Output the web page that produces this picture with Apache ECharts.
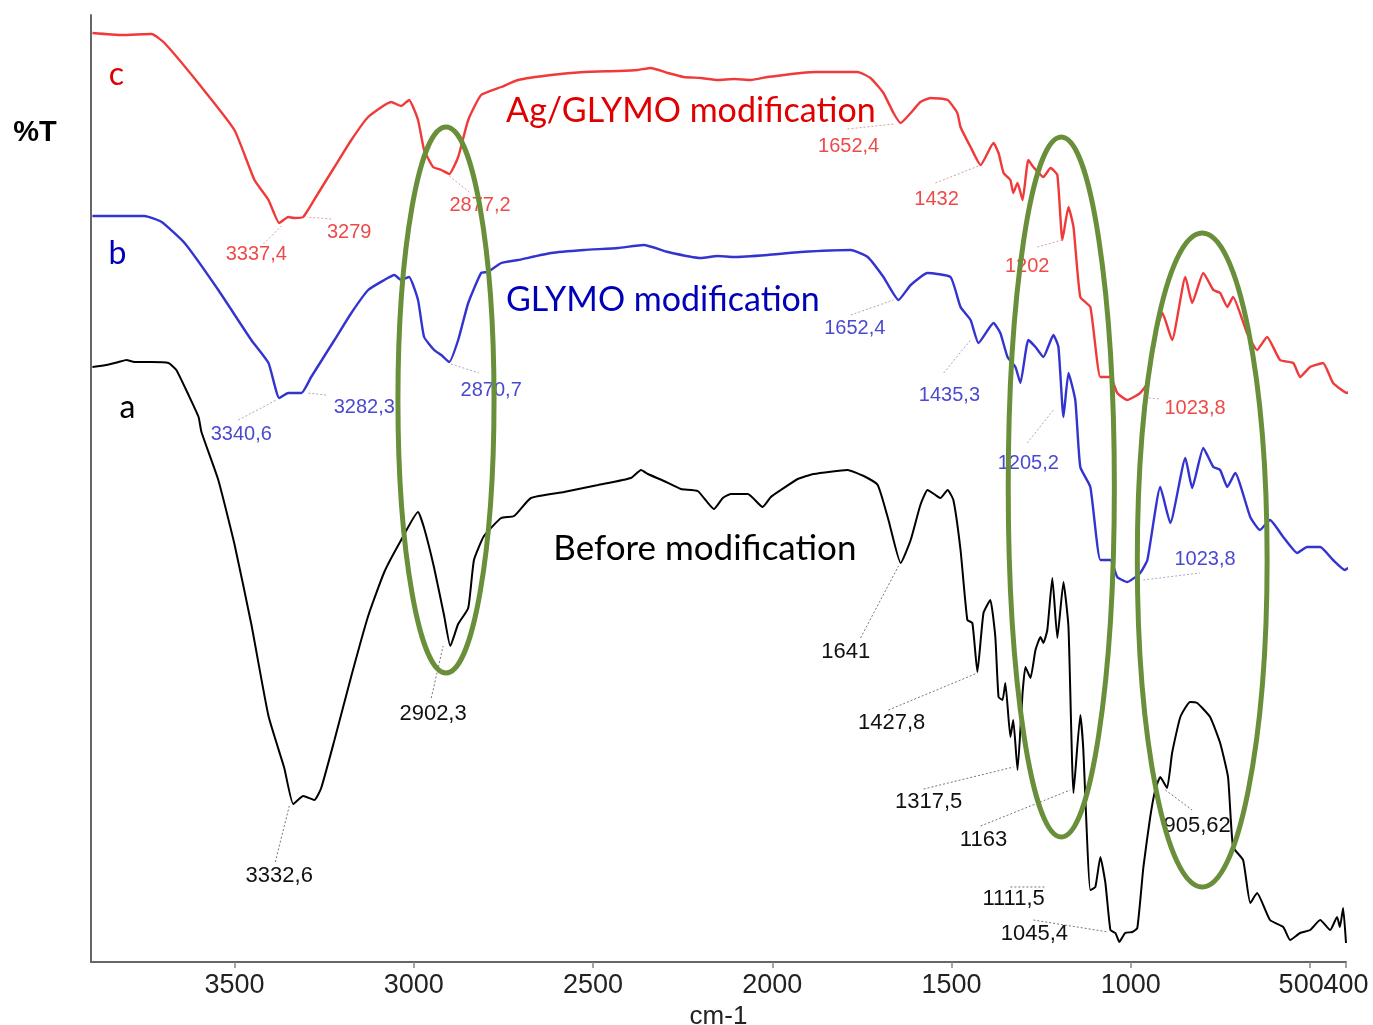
<!DOCTYPE html>
<html><head><meta charset="utf-8">
<script src="https://cdn.jsdelivr.net/npm/echarts@6/dist/echarts.min.js"></script>
<style>html,body{margin:0;padding:0;background:#fff}#c{width:1373px;height:1025px}</style>
</head><body><div id="c"></div>
<script>
// x-axis tick labels (cm-1)
const xTicks = [3500, 3000, 2500, 2000, 1500, 1000];
const xTick500 = [500];
const xEndTick = [400];

// a: Before modification  [wavenumber, %T (arbitrary offset units)]
const spectrumA = [[3896,59.5],[3857,59.7],[3823,60.0],[3801,60.2],[3779,60.0],[3731,60.0],[3684,59.9],[3662,59.2],[3628,56.7],[3600,54.5],[3592,53.0],[3545,48.2],[3500,41.8],[3453,33.8],[3405,24.6],[3361,19.4],[3336,15.8],[3308,16.6],[3277,16.2],[3258,17.4],[3221,22.2],[3174,28.6],[3127,34.6],[3082,39.0],[3035,42.2],[2988,45.0],[2971,43.4],[2943,39.4],[2915,34.6],[2898,31.6],[2876,33.8],[2848,35.4],[2832,40.2],[2804,42.6],[2756,44.4],[2720,44.6],[2673,46.4],[2581,47.0],[2486,47.7],[2394,48.4],[2366,49.2],[2347,48.8],[2302,48.1],[2255,47.3],[2208,47.1],[2163,45.3],[2138,46.4],[2116,46.8],[2068,46.8],[2027,45.5],[2004,46.5],[1976,47.2],[1929,48.3],[1885,48.8],[1790,49.2],[1745,48.6],[1706,47.7],[1676,44.2],[1642,39.9],[1614,42.2],[1587,45.7],[1567,47.2],[1545,46.7],[1531,46.4],[1511,47.2],[1495,46.2],[1475,41.2],[1456,34.2],[1442,33.9],[1428,29.0],[1411,34.9],[1392,36.2],[1378,32.5],[1369,26.5],[1358,26.2],[1350,27.9],[1336,22.5],[1328,24.2],[1316,19.2],[1302,26.9],[1294,29.5],[1280,28.4],[1266,31.2],[1252,32.5],[1244,31.9],[1233,33.2],[1219,38.4],[1205,32.4],[1188,38.0],[1174,33.5],[1160,16.9],[1141,24.7],[1133,21.5],[1113,7.2],[1099,7.5],[1085,10.5],[1071,7.9],[1057,3.2],[1043,2.9],[1032,2.0],[1016,2.9],[996,3.0],[982,3.4],[965,9.5],[946,14.5],[932,17.2],[918,18.5],[899,17.4],[885,20.9],[862,24.5],[835,26.0],[815,25.9],[779,24.5],[751,21.9],[729,18.5],[715,11.5],[687,10.2],[667,5.9],[648,6.9],[612,4.2],[575,3.5],[556,2.2],[528,2.9],[500,3.2],[472,4.2],[444,3.2],[425,4.5],[417,3.5],[408,5.4],[400,1.9]];

// b: GLYMO modification
const spectrumB = [[3896,74.6],[3815,74.6],[3751,74.6],[3703,74.0],[3639,71.9],[3545,67.2],[3453,62.2],[3405,59.9],[3375,56.4],[3350,56.9],[3313,56.9],[3286,58.5],[3221,62.2],[3174,64.9],[3127,67.2],[3082,68.2],[3054,68.7],[3035,68.2],[3013,68.5],[2988,66.2],[2971,62.5],[2943,61.2],[2923,60.7],[2901,60.0],[2876,62.2],[2848,65.9],[2812,68.9],[2793,69.0],[2756,69.9],[2709,70.2],[2617,70.9],[2525,71.2],[2430,71.4],[2358,71.7],[2291,71.0],[2199,70.4],[2152,70.6],[2107,70.5],[2013,70.7],[1921,71.0],[1781,71.2],[1734,70.5],[1690,68.5],[1648,66.2],[1614,67.7],[1567,68.9],[1503,68.5],[1475,65.5],[1447,64.2],[1425,61.9],[1383,63.9],[1364,62.9],[1344,60.5],[1322,59.5],[1308,57.9],[1286,62.2],[1266,61.5],[1244,60.5],[1216,62.7],[1202,61.5],[1188,54.5],[1174,58.9],[1155,56.2],[1141,49.5],[1113,47.5],[1085,40.2],[1057,40.2],[1038,38.5],[1010,38.0],[974,38.9],[954,40.2],[918,47.5],[890,43.9],[848,50.4],[829,47.4],[798,51.4],[770,49.5],[751,49.2],[731,47.5],[709,48.9],[667,44.5],[640,43.2],[612,44.2],[575,42.5],[536,40.9],[509,41.5],[472,41.5],[436,40.2],[403,39.2],[389,39.5],[370,39.0]];

// c: Ag/GLYMO modification
const spectrumC = [[3896,92.9],[3815,92.7],[3731,92.8],[3695,91.9],[3592,87.5],[3500,83.2],[3444,78.2],[3405,76.2],[3375,73.9],[3350,74.5],[3333,74.4],[3308,74.5],[3266,76.9],[3221,79.5],[3174,82.2],[3127,84.5],[3063,86.0],[3035,85.6],[3013,86.2],[2988,84.2],[2971,81.2],[2946,79.5],[2923,79.2],[2901,78.8],[2876,80.5],[2848,84.2],[2812,86.7],[2756,87.5],[2709,88.2],[2617,88.7],[2525,89.0],[2430,89.1],[2375,89.2],[2339,89.4],[2291,88.9],[2247,88.5],[2199,88.4],[2152,88.2],[2107,88.3],[2060,88.2],[2013,88.5],[1968,88.7],[1921,88.9],[1874,89.0],[1809,89.0],[1762,89.0],[1726,88.4],[1690,86.9],[1662,84.9],[1642,83.9],[1614,84.9],[1587,86.0],[1559,86.4],[1511,86.2],[1484,84.9],[1475,83.5],[1447,81.5],[1419,79.7],[1383,81.9],[1369,80.9],[1355,78.9],[1336,78.2],[1328,76.9],[1316,77.9],[1302,76.2],[1286,80.2],[1272,79.5],[1244,78.5],[1224,79.4],[1205,78.7],[1191,72.2],[1174,75.5],[1160,73.5],[1141,66.5],[1113,65.5],[1085,58.5],[1057,58.5],[1038,56.9],[1010,56.2],[974,56.9],[954,57.9],[926,63.5],[912,64.9],[885,62.2],[848,68.5],[829,65.9],[798,68.9],[770,67.2],[751,66.9],[731,65.5],[715,66.5],[676,62.9],[648,61.2],[620,62.5],[584,60.2],[547,59.9],[528,58.5],[500,59.5],[464,59.9],[436,57.9],[397,56.9],[375,58.2]];

// peak annotations: [text, wavenumber, %T]
const peakLabelsC = [["3337,4",3439,70.8],["3279",3180,73.0],["2877,2",2815,75.7],["1652,4",1787,81.6],["1432",1542,76.3],["1202",1289,69.6],["1023,8",821,55.4]];
const peakLabelsB = [["3340,6",3481,52.8],["3282,3",3138,55.5],["2870,7",2784,57.2],["1652,4",1770,63.4],["1435,3",1506,56.7],["1205,2",1286,49.9],["1023,8",793,40.3]];
const peakLabelsA = [["3332,6",3375,8.6],["2902,3",2946,24.8],["1641",1795,31.0],["1427,8",1667,23.9],["1317,5",1564,16.0],["1163",1411,12.2],["1111,5",1327,6.3],["1045,4",1269,2.8],["905,62",815,13.6]];
// leader lines: [[wn1,T1],[wn2,T2]]
const leadersC = [[[3419,71.8],[3369,73.6]],[[3230,74.3],[3299,74.5]],[[2901,78.6],[2845,77.0]],[[1790,83.3],[1662,83.8]],[[1545,77.9],[1425,79.6]],[[1261,71.5],[1191,72.2]],[[950,56.4],[918,56.3]]];
const leadersB = [[[3489,54.2],[3383,56.2]],[[3244,56.7],[3299,56.9]],[[2896,59.8],[2818,58.9]],[[1781,64.7],[1662,66.2]],[[1522,58.9],[1447,62.2]],[[1289,51.9],[1216,55.2]],[[965,38.2],[807,38.9]]];
const leadersA = [[[3386,10.0],[3347,15.6]],[[2951,26.4],[2918,31.6]],[[1754,32.4],[1648,39.6]],[[1676,25.2],[1428,28.9]],[[1578,17.3],[1327,19.5]],[[1419,13.6],[1169,17.2]],[[1336,7.5],[1238,7.5]],[[1272,4.2],[1063,3.0]],[[904,17.2],[829,15.2]]];
// curve names and titles: [text, wn, T]
const curveTags = [["c",3829,88.7,"#e00000"],["b",3826,70.8,"#0000b8"],["a",3798,55.4,"#000000"]];
const curveTitles = [["Ag/GLYMO modification",2227,85.1,"#e00000",34],["GLYMO modification",2305,66.2,"#0000b8",34],["Before modification",2188,41.3,"#000000",35]];
// highlight ellipses: [centerWn, centerT, radiusWn, radiusT]
const ellipses = [[2910,56.2,134,27.3],[1194,47.5,148,35.0],[801,40.2,181,32.7]];

const chart = echarts.init(document.getElementById('c'), null, {renderer:'canvas'});
const labelFont = {fontFamily:'Liberation Sans, Arial',fontSize:27,color:'#222'};
function xAxisDef(ticks, main, pad){
  return {type:'value',inverse:true,min:400,max:3900,position:'bottom',
    name: main ? 'cm-1' : '',nameLocation:'middle',nameGap:40,
    nameTextStyle:{fontFamily:'Liberation Sans, Arial',fontSize:26,color:'#222'},
    axisLine:{show:main,lineStyle:{color:'#666',width:2}},
    axisTick:{show:true,customValues:ticks,length:6,lineStyle:{color:'#888',width:1.5}},
    axisLabel:Object.assign({customValues:ticks,margin:10,hideOverlap:false,showMinLabel:true,showMaxLabel:true,
      padding:pad||0,formatter:function(v){return String(v);}},labelFont),
    splitLine:{show:false}};
}
chart.setOption({
  animation:false,
  backgroundColor:'#fff',
  grid:{left:91,right:27,top:15,bottom:63,containLabel:false,outerBoundsMode:'none'},
  xAxis:[xAxisDef(xTicks,true), xAxisDef(xTick500,false,[0,18,0,0]), xAxisDef(xEndTick,false)],
  yAxis:{type:'value',min:0,max:94.7,
    axisLine:{show:true,lineStyle:{color:'#666',width:2}},
    axisTick:{show:false},axisLabel:{show:false},splitLine:{show:false}},
  series:[
    {type:'line',name:'a',data:spectrumA,showSymbol:false,smooth:0.15,clip:false,lineStyle:{color:'#000',width:2}},
    {type:'line',name:'b',data:spectrumB,showSymbol:false,smooth:0.15,clip:false,lineStyle:{color:'#3333d0',width:2.4}},
    {type:'line',name:'c',data:spectrumC,showSymbol:false,smooth:0.15,clip:false,lineStyle:{color:'#f03a3a',width:2.4}}
  ]
});

function px(p){return chart.convertToPixel({gridIndex:0},p);}
const g = [];
function addLabels(list,color,size){
  list.forEach(l=>{const p=px([l[1],l[2]]);
    g.push({type:'text',x:p[0],y:p[1],z:10,style:{text:l[0],fill:color,font:size+'px "Liberation Sans", Arial',align:'center',verticalAlign:'middle'}});});
}
function addLeaders(list,color){
  list.forEach(l=>{const a=px(l[0]),b=px(l[1]);
    g.push({type:'line',z:9,shape:{x1:a[0],y1:a[1],x2:b[0],y2:b[1]},style:{stroke:color,lineWidth:1,lineDash:[2,2]}});});
}
addLeaders(leadersC,'#d8a0a0');addLeaders(leadersB,'#a8a8c8');addLeaders(leadersA,'#777');
addLabels(peakLabelsC,'#ee4a4a',20);addLabels(peakLabelsB,'#4a4ad0',20);addLabels(peakLabelsA,'#111',22);
curveTags.forEach(t=>{const p=px([t[1],t[2]]);
  g.push({type:'text',x:p[0],y:p[1],z:10,style:{text:t[0],fill:t[3],font:'32px Lato, "Open Sans"',align:'center',verticalAlign:'middle'}});});
curveTitles.forEach(t=>{const p=px([t[1],t[2]]);
  g.push({type:'text',x:p[0],y:p[1],z:10,style:{text:t[0],fill:t[3],font:t[4]+'px Lato, "Open Sans"',align:'center',verticalAlign:'middle'}});});
ellipses.forEach(e=>{const c=px([e[0],e[1]]);const r=px([e[0]-e[2],e[1]+e[3]]);
  g.push({type:'ellipse',z:20,shape:{cx:c[0],cy:c[1],rx:Math.abs(r[0]-c[0]),ry:Math.abs(r[1]-c[1])},style:{fill:null,stroke:'#6a8f3a',lineWidth:5}});});
g.push({type:'text',x:35,y:133,z:10,style:{text:'%T',fill:'#000',font:'bold 29px "Liberation Sans", Arial',align:'center',verticalAlign:'middle'}});
chart.setOption({graphic:{elements:g}});
</script></body></html>
